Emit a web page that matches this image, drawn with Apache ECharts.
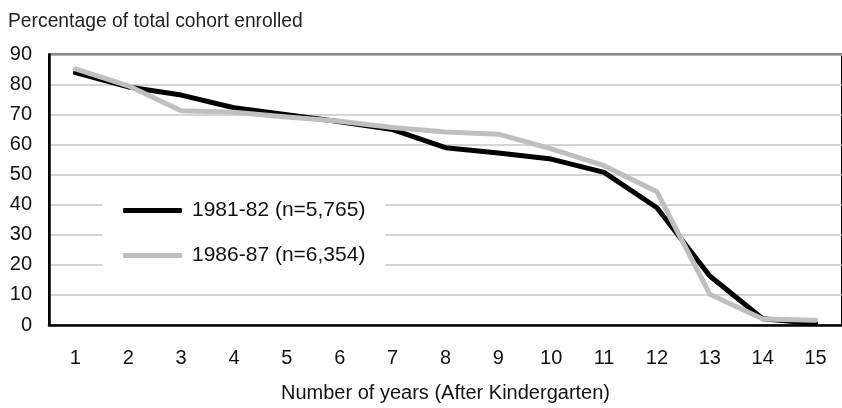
<!DOCTYPE html>
<html>
  <head>
    <meta charset="utf-8">
    <title>Cohort enrollment</title>
    <script src="https://cdn.jsdelivr.net/npm/echarts@6/dist/echarts.min.js"></script>
  </head>
  <style type="text/css">
    html, body { margin: 0; padding: 0; background: #fff; }
    #box { width: 842px; height: 408px; }
  </style>
  <body>
    <div id="box"></div>
  </body>
  <script type="text/javascript">
    // 数据 ------------------------------
    var years = ["1", "2", "3", "4", "5", "6", "7", "8", "9", "10", "11", "12", "13", "14", "15"];
    var cohort8182 = [84, 79.2, 76.5, 72.3, 70, 67.6, 65, 59, 57.2, 55.2, 50.8, 39, 16.3, 2.1, 0.5];
    var cohort8687 = [85.2, 79.6, 71.3, 70.8, 69.2, 67.8, 65.7, 64.2, 63.5, 58.6, 53, 44.3, 10.2, 2, 1.6];
    var names = ["1981-82 (n=5,765)", "1986-87 (n=6,354)"];

    var font = "'Liberation Sans', Arial, sans-serif";
    var dom = document.getElementById("box");
    var myChart = echarts.init(dom, null, { renderer: "canvas" });

    var option = {
      animation: false,
      title: {
        text: "Percentage of total cohort enrolled",
        left: 3,
        top: 7,
        textStyle: { fontFamily: font, fontSize: 19.3, fontWeight: "normal", color: "#222" },
      },
      legend: {
        orient: "vertical",
        left: 102,
        top: 188,
        padding: [12, 20, 18, 21],
        backgroundColor: "#fff",
        itemWidth: 59,
        itemHeight: 5,
        itemGap: 24,
        icon: "roundRect",
        data: names,
        textStyle: { fontFamily: font, fontSize: 21, color: "#111", padding: [0, 0, 0, 5] },
      },
      grid: {
        left: 49,
        top: 54.5,
        width: 799,
        height: 277,
        show: true,
        borderColor: "#000",
        borderWidth: 2,
      },
      xAxis: {
        type: "category",
        data: years,
        boundaryGap: true,
        name: "Number of years (After Kindergarten)",
        nameLocation: "middle",
        nameGap: 58,
        nameTextStyle: { fontFamily: font, fontSize: 20, color: "#111" },
        axisLine: { lineStyle: { color: "#000", width: 2.5 } },
        axisTick: {
          inside: true,
          length: 6,
          lineStyle: { color: "#000", width: 2 },
          interval: function (index) {
            return index !== 0 && index !== 14;
          },
        },
        axisLabel: { margin: 23, fontFamily: font, fontSize: 20, color: "#111" },
      },
      yAxis: {
        type: "value",
        min: 0,
        max: 90,
        interval: 10,
        axisLine: { show: true, lineStyle: { color: "#000", width: 2.5 } },
        axisTick: { show: false },
        axisLabel: { margin: 17, fontFamily: font, fontSize: 20, color: "#111" },
        splitLine: { lineStyle: { color: "#c6c6c6", width: 1.5 } },
      },
      series: [
        {
          name: names[0],
          type: "line",
          data: cohort8182,
          symbol: "none",
          color: "#000",
          lineStyle: { color: "#000", width: 5, cap: "round", join: "round" },
        },
        {
          name: names[1],
          type: "line",
          data: cohort8687,
          symbol: "none",
          color: "#bfbfbf",
          lineStyle: { color: "#bfbfbf", width: 5, cap: "round", join: "round" },
        },
      ],
    };
    myChart.setOption(option);
  </script>
</html>
